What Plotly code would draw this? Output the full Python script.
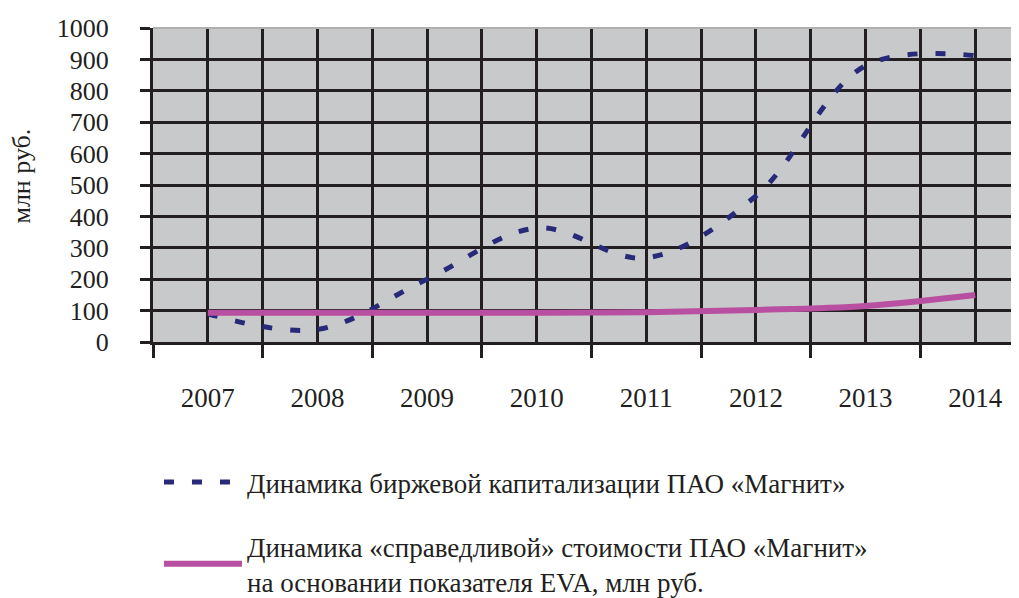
import plotly.graph_objects as go

# ---- data ----
years = [2007, 2008, 2009, 2010, 2011, 2012, 2013, 2014]
year_labels = ["2007", "2008", "2009", "2010", "2011", "2012", "2013", "2014"]
market_cap = [90, 40, 200, 363, 268, 465, 880, 912]
eva_value = [93, 93, 93, 93, 95, 102, 115, 150]
y_ticks = [0, 100, 200, 300, 400, 500, 600, 700, 800, 900, 1000]
series_names = [
    "Динамика биржевой капитализации ПАО «Магнит»",
    "Динамика «справедливой» стоимости ПАО «Магнит»<br>на основании показателя EVA, млн руб.",
]
y_title = "млн руб."

INK = "#231f20"
NAVY = "#262a78"
PINK = "#b94fa0"

fig = go.Figure()
fig.add_trace(go.Scatter(
    x=years, y=market_cap, mode="lines", name=series_names[0],
    line=dict(color=NAVY, width=5, dash="10px,18px", shape="spline"),
    legendgroup="a",
))
fig.add_trace(go.Scatter(
    x=years, y=eva_value, mode="lines", name=series_names[1],
    line=dict(color=PINK, width=6, shape="spline"),
    legendgroup="b",
))

# page body adds an 8px offset, so the figure is 1011x590
fig.update_layout(
    width=1011, height=590,
    margin=dict(l=145, r=0, t=20, b=256, autoexpand=False),
    paper_bgcolor="white", plot_bgcolor="#c8c9cb",
    font=dict(family="Liberation Serif", size=26, color=INK),
    showlegend=True,
    legend=dict(
        x=0.0069, y=-0.3694, xanchor="left", yanchor="top",
        bgcolor="rgba(0,0,0,0)", tracegroupgap=26, itemwidth=78,
        valign="middle", font=dict(size=27, color=INK),
    ),
    xaxis=dict(
        range=[2006.5, 2014.4], tickmode="array", tickvals=years, ticktext=year_labels,
        ticks="", showgrid=True, gridcolor=INK, gridwidth=3,
        showline=True, linecolor=INK, linewidth=3, zeroline=False,
        ticklabelstandoff=30, tickfont=dict(size=27),
        minor=dict(tick0=2006.5, dtick=1, ticks="outside", ticklen=13, tickwidth=3,
                   tickcolor=INK, showgrid=True, gridcolor=INK, gridwidth=3),
    ),
    yaxis=dict(
        range=[0, 1000], tickmode="array", tickvals=y_ticks,
        ticks="outside", ticklen=10, tickwidth=3, tickcolor=INK,
        showgrid=True, gridcolor=INK, gridwidth=3,
        showline=True, linecolor=INK, linewidth=3, zeroline=False,
        ticklabelstandoff=26,
    ),
    annotations=[dict(text=y_title, textangle=-90, xref="paper", yref="paper",
                      x=-0.1513, y=0.53, xanchor="center", yanchor="middle",
                      showarrow=False, font=dict(size=26, color=INK))],
    shapes=[dict(type="line", xref="paper", yref="paper", x0=0, x1=1, y0=1, y1=1,
                 line=dict(color="#b0b0b0", width=2), layer="above")],
)

fig.write_html("out.html")
